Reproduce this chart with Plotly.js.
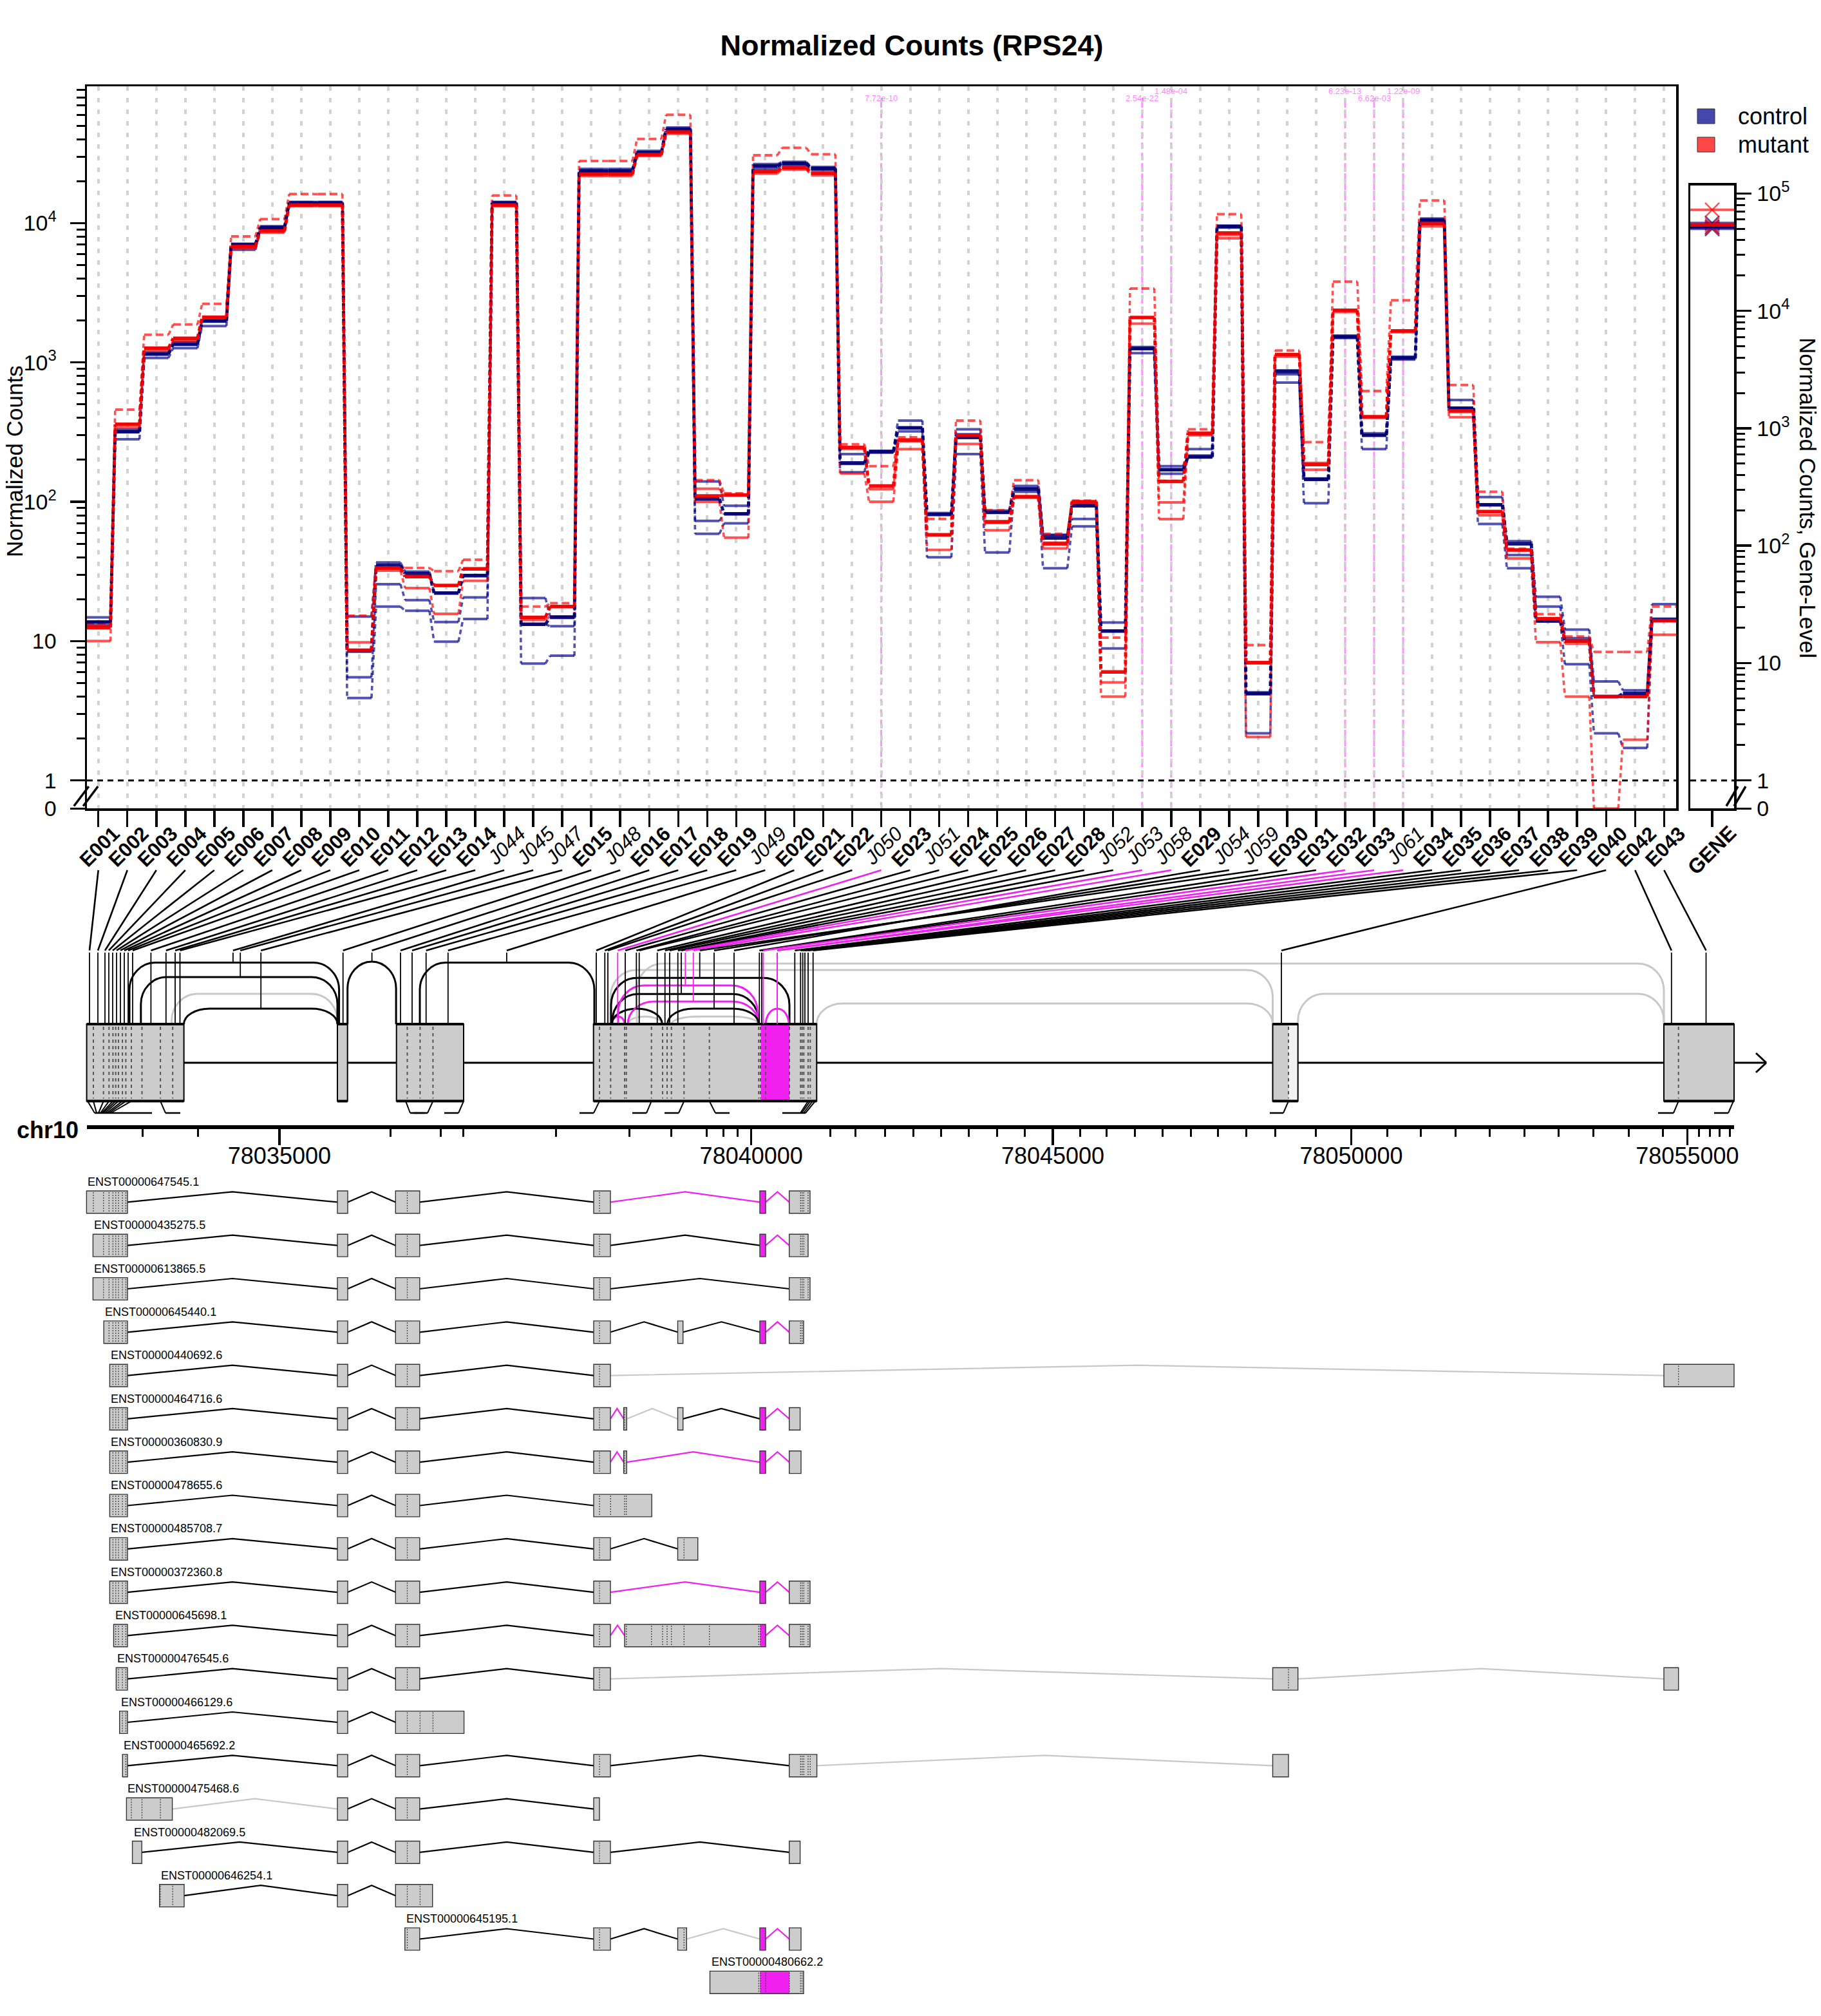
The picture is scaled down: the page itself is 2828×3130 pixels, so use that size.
<!DOCTYPE html>
<html><head><meta charset="utf-8">
<script src="https://cdn.plot.ly/plotly-3.0.1.min.js"></script>
<style>html,body{margin:0;padding:0;background:#fff}</style>
</head><body><div id="chart" style="width:2828px;height:3130px"></div>
<script>
// ---------------- DATA ----------------
const features = ['E001','E002','E003','E004','E005','E006','E007','E008','E009','E010','E011','E012','E013','E014',
 'J044','J045','J047','E015','J048','E016','E017','E018','E019','J049','E020','E021','E022','J050','E023','J051',
 'E024','E025','E026','E027','E028','J052','J053','J058','E029','J054','J059','E030','E031','E032','E033','J061',
 'E034','E035','E036','E037','E038','E039','E040','E042','E043'];
const sigFeatures = ['J050','J053','J058','E032','E033','J061'];
const sigPvalues  = ['7.72e-10','2.54e-22','1.48e-04','6.23e-13','6.62e-03','1.22e-09'];
const sigLabelHigh = [false,false,true,true,false,true];

const ctrl1 = [14.8,330,1180,1400,2000,7100,9500,14200,14200,15.0,36.7,31.5,22.1,29.8,14200,20.4,15.0,24500,24500,33000,48500,140,93.6,26500,27500,25300,220,232,383,83,331,86.4,130,58,95,13.6,1290,180,239,9600,4.3,877,147,1560,310,1100,10800,538,108,52.1,20.8,12.1,5.13,4.43,18.4];
const ctrl2 = [13.7,318,1148,1352,1982,7000,9290,13960,13960,5.5,25.6,19.7,13.7,20.6,13960,13.2,12.8,23700,23700,32000,47300,72.8,82,25700,26800,24700,187,229,339,81.6,305,84,125,57.5,75.2,11.8,1256,170,215,9450,4.19,823,145,1527,300,1076,10500,469,95,41.5,17.7,10.5,4.0,4.1,14.5];
const ctrl3 = [13.0,281,1076,1266,1825,6440,9000,13600,13600,3.9,17.7,16.5,9.9,14.4,13500,6.9,7.85,23000,23000,31000,46000,58.9,70,24500,26000,24000,163,225,320,39.9,220,43.3,118,33.3,66.6,8.85,1167,159,208,9300,2.18,716,97.6,1500,239,1050,10200,460,69.3,33.3,13.8,6.82,2.18,1.71,14.2];
const ctrlMean = [13.7,318,1148,1352,1982,7000,9290,13960,13960,8.5,35,30.5,22.1,29.5,13960,13.2,14.8,23700,23700,32000,47300,105,82,25700,26800,24700,190,229,339,81,290,84,123,55,93.7,11.8,1256,170,210,9450,4.19,860,145,1527,300,1076,10500,469,95,50,14,10,4.0,4.2,14.2];
const mut1 = [13.3,458,1578,1871,2630,8030,10670,16150,16150,15.2,34.4,33.5,31.8,38.4,15800,17.7,18.7,27900,27900,40200,59900,143,115,30700,34700,31200,259,180,290,75.2,383,87,143,58.9,102,10.6,3390,141,331,11580,9.37,1216,268,3800,624,2790,14550,688,118,46,15.6,10.8,8.36,8.36,17.7];
const mut2 = [12.8,359,1266,1489,2113,6700,8800,13500,13500,9.8,33.2,29,25.1,33.2,13500,14.8,17.7,22500,22500,31000,45000,124,112,23500,25000,22800,240,123,281,57.5,288,70.5,110,50.9,100,5.05,2100,99,305,8230,6.93,1140,190,2370,408,1683,9910,440,85,45.1,14.5,9.6,4.0,4.0,14.0];
const mut3 = [10.0,340,1216,1430,2080,6600,8570,13200,13200,8.6,32,24,15.7,27.1,13200,14.2,15.0,21800,21800,30300,43700,100,55.2,22700,24300,22000,160,100,239,45.1,260,62.4,108,46.2,98,4.0,1900,75,300,7770,2.05,1100,170,2300,400,1650,9500,405,80,39.2,9.84,4.0,0,1.96,11.1];
const mutMean = [12.5,360,1266,1489,2113,6800,8800,13500,13500,8.6,33.5,29,25.1,33,13500,14.8,17.7,22500,22500,31000,45000,110,112,23500,25000,22800,245,130,275,58,300,72,108,50,100,6.0,2100,140,310,8500,7.0,1140,185,2370,408,1683,9910,450,85,45,14.5,10,4.0,4.0,14.0];

const geneCtrl = [56000,52000,50000], geneCtrlMean = 52000;
const geneMut  = [72600,54000,51000], geneMutMean  = 54000;

// gene model, rescaled coordinate
const featureAnchor = [139,152,163,169,175,181,187,193,199,206,234.4,257.8,272,279.5,
 361.9,373.2,405.2,532.7,577.6,622,640,661.7,695.8,786.9,926,939.3,944,959.3,971,988.3,
 992.7,1020.7,1032.7,1040,1052.7,1058,1064.3,1076.7,1140,1109,1086.7,1179.3,1183,1185.5,1207,1207,
 1234.3,1243.3,1246.7,1250,1255,1262.7,1990,2595.8,2649.5];
const junctionArcNames = ['J044','J045','J047','J048','J049','J050','J051','J052','J053','J058','J054','J059','J061'];
const junctionArcFrom  = [201,218.8,285.6,539.7,652,950,950,951,960,975,1036.7,949,1189.3];
const junctionArcTo    = [526.6,524,524,615.1,923,970,1028.3,1178.3,1176.7,1178.3,1178.3,1226,1225];
const junctionArcTop   = [1494.6,1517,1566,1492.9,1494.6,1578.3,1566,1543.3,1530,1555,1566,1518.3,1566];
const untestedArcFrom = [266.5,975,1042.7,989,948,1268.3,2015.7];
const untestedArcTo   = [524,1028.3,1178.3,2584,1976.5,1976.5,2584];
const untestedArcTop  = [1543,1578.3,1578.3,1496,1506,1558,1543];
const geneBoxStart = [134.6,524,615.7,921.7,1976.5,2584];
const geneBoxEnd   = [285.6,539.7,720,1268.3,2015.7,2693];
const partBounds = [145,160.7,169.3,175.4,179.7,184,190.1,195.4,204,220.5,249.1,268.2,632.5,652.4,672.4,
 931,948.3,970,972.7,1011.7,1029,1036,1042.7,1062.3,1101.7,1178.3,1181,1189,1226,1243.3,1245.7,1248.3,1255,1258.3,2001,2606.7];
const sigParts = [[1181.7,1226]];
const untestedParts = [[2001,2015.7]];
const legTop    = [136,145,160.7,169.3,175.4,179.7,184,190.1,195.4,204,249.1,630,672.4,720,931,1011.7,1062.3,1101.7,1255,1258.3,1262,1266,2001,2606.7,2692];
const legBottom = [147,150,153,156,158,160,163,166,169,172,257,637,664,712,922,1004,1054,1111,1243,1245,1248,1251,1993,2599,2684];
const legRuns = [[147,236],[257,280],[637,660],[642,664],[690,712],[900,922],[982,1004],[1032,1054],[1111,1133],[1215,1251],[1972,1993],[2575,2599],[2662,2684]];

const genomicMajorPos   = [433.9,1166.7,1635,2098.5,2620.4];
const genomicMajorLabel = ['78035000','78040000','78045000','78050000','78055000'];
const genomicMinorPos = [221.4,307.2,606.5,684.5,719.2,863.2,977.7,1042.7,1097.4,1123.4,1145.1,1289.9,1328.9,1374.8,1418,1461.9,1504.7,1548.5,1591.3,
 1677.8,1718.8,1762.5,1805.3,1849,1891.8,1935.5,1980.1,2043.9,2154.1,2206.9,2260.7,2313.5,2367.2,2420,2474.7,2529.3,2582.1,2638.6,2655,2670.5,2686];

const trNames = ['ENST00000647545.1','ENST00000435275.5','ENST00000613865.5','ENST00000645440.1','ENST00000440692.6',
 'ENST00000464716.6','ENST00000360830.9','ENST00000478655.6','ENST00000485708.7','ENST00000372360.8','ENST00000645698.1',
 'ENST00000476545.6','ENST00000466129.6','ENST00000465692.2','ENST00000475468.6','ENST00000482069.5','ENST00000646254.1',
 'ENST00000645195.1','ENST00000480662.2'];
const trExons = [
 [[134.4,198],[524,540],[614.3,651.8],[922,948],[1180,1189],[1225.7,1258]],
 [[144.4,198],[524,540],[614.3,651.8],[922,948],[1180,1189],[1225.7,1255]],
 [[144.4,198],[524,540],[614.3,651.8],[922,948],[1225.7,1258]],
 [[161.2,198],[524,540],[614.3,651.8],[922,948],[1052.5,1060.7],[1180,1189],[1225.7,1248]],
 [[170.4,198],[524,540],[614.3,651.8],[922,948],[2584,2693]],
 [[170.4,198],[524,540],[614.3,651.8],[922,948],[968.6,973.2],[1052.5,1060.7],[1180,1189],[1225.7,1242.6]],
 [[170.4,198],[524,540],[614.3,651.8],[922,948],[968.6,973.2],[1180,1189],[1225.7,1244]],
 [[170.4,198],[524,540],[614.3,651.8],[922,1012.2]],
 [[170.4,198],[524,540],[614.3,651.8],[922,948],[1052.5,1083.7]],
 [[170.4,198],[524,540],[614.3,651.8],[922,948],[1180,1189],[1225.7,1258]],
 [[176.5,198],[524,540],[614.3,651.8],[922,948],[970,1189],[1225.7,1258]],
 [[180.4,198],[524,540],[614.3,651.8],[922,948],[1976.5,2015.7],[2584,2606.7]],
 [[185.7,198],[524,540],[614.3,720.6]],
 [[190.3,198],[524,540],[614.3,651.8],[922,948],[1225.7,1268.6],[1976.5,2001]],
 [[196.4,267.6],[524,540],[614.3,651.8],[922,931]],
 [[205.6,220.2],[524,540],[614.3,651.8],[922,948],[1225.7,1242.6]],
 [[247.7,286],[524,540],[614.3,671.7]],
 [[628.8,651.8],[922,948],[1052.5,1066.3],[1180,1189],[1225.7,1244]],
 [[1102.5,1248]]
];
const trIntrons = ['kkkmm','kkkkm','kkkk','kkkkkm','kkkg','kkkmgkm','kkkmmm','kkk','kkkk','kkkmm','kkkmm','kkkgg','kk','kkkkg','gkk','kkkk','kk','kkgm',''];

// ---------------- LAYOUT CONSTANTS ----------------
const W = 2828, H = 3130;
const FONT = 'Liberation Sans, Arial, Helvetica, sans-serif';
const PX = v => v / W, PY = v => 1 - v / H;
const MAIN_L = 135, MAIN_R = 2603, MAIN_T = 134.4, MAIN_B = 1255.3;
const MAIN_XR = [0.607, 55.415], MAIN_YR = [-0.2016, 4.98];
const GENE_L = 2625, GENE_R = 2693, GENE_T = 287.5, GENE_YR = [-0.239, 5.071];
const ZERO_MAIN = Math.pow(10, MAIN_YR[0]), ZERO_GENE = Math.pow(10, GENE_YR[0]);
const HALF = 0.42;
const MAG = '#F020F0', MAGLINE = 'rgba(255,0,255,0.42)';
const CONN_TOP = 1351, CONN_BOT = 1475.7, VERT_TOP = 1479;
const BOX_T = 1590, BOX_B = 1709.6, GM_Y = 1650, GM_END = 2743, LEG_Y = 1728;
const TR_Y0 = 1866.4, TR_DY = 67.3, TR_HALF = 17.4, TR_PEAK = 16;
const GA_L = 134.6, GA_R = 2693, GA_Y = 1750;

// ---------------- TRACES ----------------
const traces = [];
const zm = v => (v <= 0 ? ZERO_MAIN : v);
function addSeries(vals, color, width, segDash) {
  const sx = [], sy = [], jx = [], jy = [];
  vals.forEach((v, i) => {
    const c = i + 1;
    sx.push(c - HALF, c + HALF, null); sy.push(zm(v), zm(v), null);
    if (i < vals.length - 1) { jx.push(c + HALF, c + 1 - HALF, null); jy.push(zm(v), zm(vals[i + 1]), null); }
  });
  traces.push({type:'scatter', mode:'lines', x:jx, y:jy, xaxis:'x', yaxis:'y', line:{color, width:width*0.9, dash:'7px,5px'}, hoverinfo:'skip', showlegend:false});
  traces.push({type:'scatter', mode:'lines', x:sx, y:sy, xaxis:'x', yaxis:'y', line:{color, width, dash:segDash || 'solid'}, hoverinfo:'skip', showlegend:false});
}
const C_S = 'rgba(0,0,139,0.68)', C_M = 'rgba(0,0,115,0.92)';
const R_S = 'rgba(255,0,0,0.68)', R_M = 'rgba(240,0,0,0.95)';
addSeries(ctrl1, C_S, 4); addSeries(ctrl2, C_S, 4); addSeries(ctrl3, C_S, 4);
addSeries(mut1, R_S, 4, '12px,6px'); addSeries(mut2, R_S, 4); addSeries(mut3, R_S, 4);
addSeries(ctrlMean, C_M, 5.5); addSeries(mutMean, R_M, 5.5);

function addGene(v, color, width, marker) {
  traces.push({type:'scatter', mode:'lines', x:[0.5,1.5], y:[v,v], xaxis:'x2', yaxis:'y2', line:{color, width}, hoverinfo:'skip', showlegend:false});
  if (marker) traces.push({type:'scatter', mode:'markers', x:[1], y:[v], xaxis:'x2', yaxis:'y2',
    marker:{symbol:'x-thin-open', size:22, color, line:{color, width:2.5}}, hoverinfo:'skip', showlegend:false});
}
geneCtrl.forEach(v => addGene(v, C_S, 4, true));
geneMut.forEach(v => addGene(v, R_S, 4, true));
addGene(geneCtrlMean, C_M, 5.5, false);
addGene(geneMutMean, R_M, 5.5, false);

traces.push({type:'scatter', mode:'markers', x:[0], y:[0], xaxis:'x3', yaxis:'y3', marker:{opacity:0}, hoverinfo:'skip', showlegend:false});
traces.push({type:'scatter', mode:'markers', x:[GA_L], y:[0], xaxis:'x4', yaxis:'y3', marker:{opacity:0}, hoverinfo:'skip', showlegend:false});

// ---------------- SHAPES ----------------
const shapes = [];
const annotations = [];
shapes.push({type:'line', xref:'x domain', yref:'y', x0:0, x1:1, y0:1, y1:1, line:{color:'#000', width:3, dash:'9px,7px'}});
shapes.push({type:'line', xref:'x2 domain', yref:'y2', x0:0, x1:1, y0:1, y1:1, line:{color:'#000', width:3, dash:'9px,7px'}});
sigFeatures.forEach((f, k) => {
  const idx = features.indexOf(f) + 1;
  shapes.push({type:'line', xref:'x', yref:'paper', x0:idx, x1:idx, y0:PY(MAIN_B), y1:PY(158), layer:'below', line:{color:MAGLINE, width:3, dash:'10px,6px'}});
  annotations.push({xref:'x', yref:'paper', x:idx, y:PY(sigLabelHigh[k] ? 142 : 152), text:sigPvalues[k], showarrow:false,
    font:{family:FONT, size:13, color:'rgba(255,0,255,0.5)'}, xanchor:'center', yanchor:'middle'});
});
[[114.8,1251.5,137.8,1221],[129.2,1251.5,152.1,1221],[2681,1251.5,2699,1221],[2693,1251.5,2711,1221]].forEach(b =>
  shapes.push({type:'line', xref:'paper', yref:'paper', x0:PX(b[0]), y0:PY(b[1]), x1:PX(b[2]), y1:PY(b[3]), line:{color:'#000', width:3.5}}));
[['control','#4747AB',169],['mutant','#FF4747',213]].forEach(l => {
  shapes.push({type:'rect', xref:'paper', yref:'paper', x0:PX(2636), x1:PX(2663), y0:PY(l[2]), y1:PY(l[2]+23), fillcolor:l[1], line:{color:'#333', width:1}});
  annotations.push({xref:'paper', yref:'paper', x:PX(2697), y:PY(l[2]+11.5), text:l[0], showarrow:false, xanchor:'left', yanchor:'middle',
    font:{family:FONT, size:36, color:'#000'}});
});

const LR = i => MAIN_L + (i - MAIN_XR[0]) * (MAIN_R - MAIN_L) / (MAIN_XR[1] - MAIN_XR[0]);
const L3 = (x0, y0, x1, y1, color, width, dash) => shapes.push({type:'line', xref:'x3', yref:'y3', x0, y0, x1, y1, line:{color, width, dash:dash || 'solid'}});
function arcPath(x0, x1, yt, yb) {
  const rx = Math.min(40, (x1 - x0) / 2), ry = Math.min(42, yb - yt);
  return `M${x0},${yb} L${x0},${yt + ry} C${x0},${yt + ry * 0.45} ${x0 + rx * 0.45},${yt} ${x0 + rx},${yt} L${x1 - rx},${yt} C${x1 - rx * 0.45},${yt} ${x1},${yt + ry * 0.45} ${x1},${yt + ry} L${x1},${yb}`;
}
L3(geneBoxStart[0], GM_Y, GM_END, GM_Y, '#000', 3);
L3(GM_END - 16, GM_Y - 15, GM_END, GM_Y, '#000', 3);
L3(GM_END - 16, GM_Y + 15, GM_END, GM_Y, '#000', 3);
untestedArcFrom.forEach((x0, k) => shapes.push({type:'path', xref:'x3', yref:'y3', path:arcPath(x0, untestedArcTo[k], untestedArcTop[k], BOX_T), line:{color:'#c8c8c8', width:3}}));
junctionArcNames.forEach((n, k) => shapes.push({type:'path', xref:'x3', yref:'y3', path:arcPath(junctionArcFrom[k], junctionArcTo[k], junctionArcTop[k], BOX_T),
  line:{color: sigFeatures.includes(n) ? MAG : '#000', width:3}}));
geneBoxStart.forEach((x0, k) => shapes.push({type:'rect', xref:'x3', yref:'y3', x0, x1:geneBoxEnd[k], y0:BOX_T, y1:BOX_B, fillcolor:'#cccccc', line:{width:0}}));
sigParts.forEach(p => shapes.push({type:'rect', xref:'x3', yref:'y3', x0:p[0], x1:p[1], y0:BOX_T, y1:BOX_B, fillcolor:MAG, line:{width:0}}));
untestedParts.forEach(p => shapes.push({type:'rect', xref:'x3', yref:'y3', x0:p[0], x1:p[1], y0:BOX_T, y1:BOX_B, fillcolor:'#f2f2f2', line:{width:0}}));
partBounds.forEach(b => L3(b, BOX_T + 4, b, BOX_B - 4, '#555', 2, '5px,5px'));
geneBoxStart.forEach((x0, k) => {
  shapes.push({type:'rect', xref:'x3', yref:'y3', x0, x1:geneBoxEnd[k], y0:BOX_T, y1:BOX_B, line:{color:'#000', width:2}});
  L3(x0, BOX_T, geneBoxEnd[k], BOX_T, '#000', 4); L3(x0, BOX_B, geneBoxEnd[k], BOX_B, '#000', 4);
});
legTop.forEach((x, k) => L3(x, BOX_B, legBottom[k], LEG_Y, '#000', 2));
legRuns.forEach(r => L3(r[0], LEG_Y, r[1], LEG_Y, '#000', 2.5));
features.forEach((f, i) => {
  const col = sigFeatures.includes(f) ? MAG : '#000';
  const ja = junctionArcNames.indexOf(f);
  const yA = ja >= 0 ? junctionArcTop[ja] : BOX_T;
  L3(featureAnchor[i], VERT_TOP, featureAnchor[i], yA, col, 1.8);
  L3(LR(i + 1), CONN_TOP, featureAnchor[i], CONN_BOT, col, 2.6);
});
annotations.push({xref:'paper', yref:'paper', x:PX(24), y:PY(1754), text:'<b>chr10</b>', showarrow:false, xanchor:'left', yanchor:'middle', font:{family:FONT, size:36, color:'#000'}});

const SIG_LO = 1180.5, SIG_HI = 1226;
trNames.forEach((name, k) => {
  const yc = TR_Y0 + k * TR_DY;
  const ex = trExons[k];
  for (let j = 0; j < ex.length - 1; j++) {
    const a = ex[j][1], b = ex[j + 1][0], m = (a + b) / 2;
    const code = trIntrons[k][j];
    const col = code === 'm' ? MAG : code === 'g' ? '#c8c8c8' : '#000';
    shapes.push({type:'path', xref:'x3', yref:'y3', path:`M${a},${yc} L${m},${yc - TR_PEAK} L${b},${yc}`, line:{color:col, width:2.2}});
  }
  ex.forEach(e => {
    shapes.push({type:'rect', xref:'x3', yref:'y3', x0:e[0], x1:e[1], y0:yc - TR_HALF, y1:yc + TR_HALF, fillcolor:'#cccccc', line:{width:0}});
    const lo = Math.max(e[0], SIG_LO), hi = Math.min(e[1], SIG_HI);
    if (hi > lo) shapes.push({type:'rect', xref:'x3', yref:'y3', x0:lo, x1:hi, y0:yc - TR_HALF, y1:yc + TR_HALF, fillcolor:MAG, line:{width:0}});
    partBounds.filter(b => b > e[0] + 1 && b < e[1] - 1).forEach(b => L3(b, yc - TR_HALF + 2, b, yc + TR_HALF - 2, '#444', 1.3, '2px,2px'));
    shapes.push({type:'rect', xref:'x3', yref:'y3', x0:e[0], x1:e[1], y0:yc - TR_HALF, y1:yc + TR_HALF, line:{color:'#333', width:1.4}});
  });
  annotations.push({xref:'x3', yref:'y3', x:ex[0][0] + 1, y:yc - TR_HALF - 3, text:name, showarrow:false, xanchor:'left', yanchor:'bottom',
    font:{family:FONT, size:18, color:'#000'}, borderpad:0});
});

annotations.push({xref:'paper', yref:'paper', x:PX(22), y:PY(716), text:'Normalized Counts', textangle:-90, showarrow:false,
  xanchor:'center', yanchor:'middle', font:{family:FONT, size:35, color:'#000'}});
annotations.push({xref:'paper', yref:'paper', x:PX(2808), y:PY(773), text:'Normalized Counts, Gene-Level', textangle:90, showarrow:false,
  xanchor:'center', yanchor:'middle', font:{family:FONT, size:35, color:'#000'}});

// ---------------- AXES ----------------
const ticktext = features.map(f => f[0] === 'J' ? `<i>${f}</i>` : `<b>${f}</b>`);
const minorMain = [], minorGene = [];
for (let e = 0; e <= 4; e++) for (let m = 2; m <= 9; m++) { minorMain.push(m * Math.pow(10, e)); minorGene.push(m * Math.pow(10, e)); }
const axLine = {showline:true, linecolor:'#000', linewidth:3.5, mirror:true, zeroline:false};

const layout = {
  width:W, height:H, margin:{l:0, r:0, t:0, b:0}, paper_bgcolor:'#fff', plot_bgcolor:'rgba(0,0,0,0)',
  showlegend:false, font:{family:FONT, color:'#000'},
  title:{text:'<b>Normalized Counts (RPS24)</b>', x:PX(1416), y:PY(70), xref:'paper', yref:'paper', xanchor:'center', yanchor:'middle', font:{family:FONT, size:45, color:'#000'}},
  xaxis:Object.assign({domain:[PX(MAIN_L), PX(MAIN_R)], range:MAIN_XR, anchor:'y', tickmode:'array', tickvals:features.map((f, i) => i + 1), ticktext,
    tickangle:-45, ticks:'outside', ticklen:25, tickwidth:3.5, tickcolor:'#000', tickfont:{family:FONT, size:31, color:'#000'},
    ticklabelstandoff:-20, ticklabelshift:24,
    showgrid:true, gridcolor:'#d2d2d2', gridwidth:4, griddash:'7px,11px'}, axLine),
  yaxis:Object.assign({domain:[PY(MAIN_B), PY(MAIN_T)], type:'log', range:MAIN_YR, anchor:'x', tickmode:'array',
    tickvals:[ZERO_MAIN, 1, 10, 100, 1000, 10000], ticktext:['0','1','10','10<sup>2</sup>','10<sup>3</sup>','10<sup>4</sup>'],
    ticks:'outside', ticklen:23, tickwidth:3.5, tickcolor:'#000', tickfont:{family:FONT, size:34, color:'#000'}, ticklabelstandoff:14,
    minor:{tickmode:'array', tickvals:minorMain, ticks:'outside', ticklen:13, tickwidth:3, tickcolor:'#000', showgrid:false},
    showgrid:false}, axLine),
  xaxis2:Object.assign({domain:[PX(GENE_L), PX(GENE_R)], range:[0.5, 1.5], anchor:'y2', tickmode:'array', tickvals:[1], ticktext:['<b>GENE</b>'],
    tickangle:-45, ticks:'outside', ticklen:25, tickwidth:3.5, tickcolor:'#000', tickfont:{family:FONT, size:32, color:'#000'},
    ticklabelstandoff:-22, ticklabelshift:28, showgrid:false}, axLine),
  yaxis2:Object.assign({domain:[PY(MAIN_B), PY(GENE_T)], type:'log', range:GENE_YR, anchor:'x2', side:'right', tickmode:'array',
    tickvals:[ZERO_GENE, 1, 10, 100, 1000, 10000, 100000], ticktext:['0','1','10','10<sup>2</sup>','10<sup>3</sup>','10<sup>4</sup>','10<sup>5</sup>'],
    ticks:'outside', ticklen:23, tickwidth:3.5, tickcolor:'#000', tickfont:{family:FONT, size:34, color:'#000'}, ticklabelstandoff:2,
    minor:{tickmode:'array', tickvals:minorGene, ticks:'outside', ticklen:13, tickwidth:3, tickcolor:'#000', showgrid:false},
    showgrid:false}, axLine),
  xaxis3:{domain:[0, 1], range:[0, W], anchor:'y3', visible:false, fixedrange:true},
  yaxis3:{domain:[0, 1], range:[H, 0], anchor:'x3', visible:false, fixedrange:true},
  xaxis4:{domain:[PX(GA_L), PX(GA_R)], range:[GA_L, GA_R], anchor:'free', position:PY(GA_Y), showline:true, linecolor:'#000', linewidth:6,
    zeroline:false, showgrid:false, tickmode:'array', tickvals:genomicMajorPos, ticktext:genomicMajorLabel, ticks:'outside', ticklen:25, tickwidth:3.5,
    tickcolor:'#000', tickfont:{family:FONT, size:36, color:'#000'}, ticklabelstandoff:-14,
    minor:{tickmode:'array', tickvals:genomicMinorPos, ticks:'outside', ticklen:12, tickwidth:3, tickcolor:'#000', showgrid:false}},
  shapes, annotations
};
Plotly.newPlot('chart', traces, layout, {staticPlot:true, displayModeBar:false});
</script></body></html>
